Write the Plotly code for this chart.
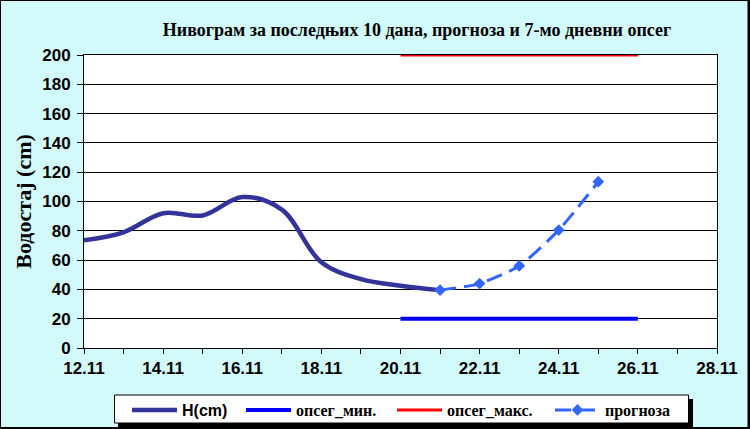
import plotly.graph_objects as go

# ---- data ----
h_dates = ["2010-11-12", "2010-11-13", "2010-11-14", "2010-11-15", "2010-11-16",
           "2010-11-17", "2010-11-18", "2010-11-19", "2010-11-20", "2010-11-21"]
h_values = [73.5, 79, 92, 90.5, 103, 94.5, 58.5, 47, 42.5, 39.5]

range_dates = ["2010-11-20", "2010-11-26"]
range_min = [20, 20]
range_max = [200, 200]

fc_dates = ["2010-11-21", "2010-11-22", "2010-11-23", "2010-11-24", "2010-11-25"]
fc_values = [39.5, 44, 56, 80.5, 113.5]

title_text = "Нивограм за последњих 10 дана, прогноза и 7-мо дневни опсег"
y_title = "Водостај (cm)"
names = ["H(cm)", "опсег_мин.", "опсег_макс.", "прогноза"]

SERIF = "Liberation Serif, Times New Roman, serif"
SANS = "Liberation Sans, Arial, sans-serif"

FW, FH = 750, 429
# geometry helpers (paper coords)
L, R, T, B = 84, 717, 55, 348
W, H = R - L, B - T
def px(x):
    return (x - L) / W
def py(y):
    return (B - y) / H

fig = go.Figure()
fig.add_trace(go.Scatter(x=h_dates, y=h_values, mode="lines", name=names[0], legend="legend",
                         line=dict(color="#333399", width=4.5, shape="spline", smoothing=1.0)))
fig.add_trace(go.Scatter(x=range_dates, y=range_min, mode="lines", name=names[1], legend="legend2",
                         line=dict(color="#0000FF", width=4)))
fig.add_trace(go.Scatter(x=range_dates, y=range_max, mode="lines", name=names[2], legend="legend3",
                         line=dict(color="#FF0000", width=3)))
fig.add_trace(go.Scatter(x=fc_dates, y=fc_values, mode="lines+markers", name=names[3], legend="legend4",
                         line=dict(color="#3366FF", width=3, dash="16px,8px", shape="spline", smoothing=0.6),
                         marker=dict(symbol="diamond", size=9, color="#3366FF")))

shapes = []
# legend shadow + box
shapes.append(dict(type="rect", xref="paper", yref="paper", x0=px(118), x1=px(693), y0=py(427), y1=py(399),
                   fillcolor="black", line=dict(width=0), layer="above"))
shapes.append(dict(type="rect", xref="paper", yref="paper", x0=px(114.5), x1=px(688.5), y0=py(423), y1=py(395),
                   fillcolor="white", line=dict(color="black", width=1), layer="above"))
# outer border
shapes.append(dict(type="rect", xref="paper", yref="paper", x0=px(0.5), x1=px(748), y0=py(427.5), y1=py(0.5),
                   line=dict(color="black", width=1), fillcolor="rgba(0,0,0,0)"))
shapes.append(dict(type="line", xref="paper", yref="paper", x0=px(749), x1=px(749), y0=py(429), y1=py(0),
                   line=dict(color="black", width=2)))
shapes.append(dict(type="line", xref="paper", yref="paper", x0=px(0), x1=px(750), y0=py(428), y1=py(428),
                   line=dict(color="black", width=2)))

def leg(xline, font):
    return dict(orientation="h", xref="container", yref="container",
                x=(xline - 8) / FW, xanchor="left", y=1 - 410 / FH, yanchor="middle",
                bgcolor="rgba(0,0,0,0)", borderwidth=0, font=font,
                itemwidth=45, itemclick=False, itemdoubleclick=False)

serif_font = dict(family=SERIF, size=16, color="black", weight="bold")
sans_font = dict(family=SANS, size=16, color="black", weight="bold")

fig.update_layout(
    width=FW, height=FH,
    margin=dict(l=L, r=FW - R, t=T, b=FH - B, autoexpand=False),
    paper_bgcolor="#D2FAFA",
    plot_bgcolor="white",
    title=dict(text="<b>" + title_text + "</b>", x=px(417), xanchor="center", xref="paper",
               y=1 - 30 / FH, yanchor="middle",
               font=dict(family=SERIF, size=18, color="black")),
    showlegend=True,
    legend=leg(135, sans_font),
    legend2=leg(249, serif_font),
    legend3=leg(400, serif_font),
    legend4=leg(558, serif_font),
    shapes=shapes,
)

fig.update_xaxes(
    type="date",
    range=["2010-11-12", "2010-11-28"],
    tick0="2010-11-12", dtick=2 * 86400000,
    tickformat="%d.%m",
    ticks="outside", ticklen=5, tickcolor="black",
    minor=dict(dtick=86400000, ticks="outside", ticklen=5, tickcolor="black", showgrid=False),
    showgrid=False,
    showline=True, linecolor="black", linewidth=1, mirror=True,
    tickfont=dict(family=SANS, size=17, color="black", weight="bold"),
    zeroline=False,
)
fig.update_yaxes(
    range=[0, 200], dtick=20,
    ticks="outside", ticklen=6, tickcolor="black",
    showgrid=True, gridcolor="black", gridwidth=1,
    showline=True, linecolor="black", linewidth=1, mirror=True,
    tickfont=dict(family=SANS, size=17, color="black", weight="bold"),
    ticklabelstandoff=3,
    title=dict(text="<b>" + y_title + "</b>", font=dict(family=SERIF, size=22, color="black"), standoff=4),
    zeroline=False,
)

fig.write_html("out.html", config={"displayModeBar": False},
               post_script="document.body.style.margin='0px';document.body.style.overflow='hidden';")
